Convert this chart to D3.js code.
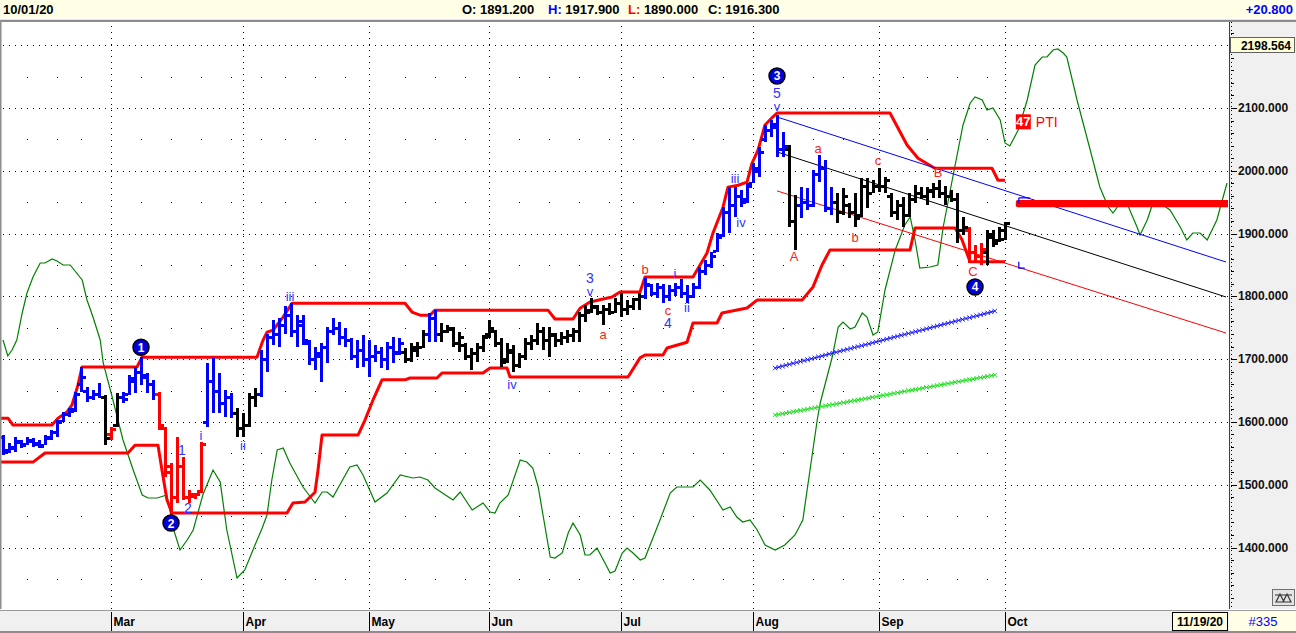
<!DOCTYPE html>
<html><head><meta charset="utf-8">
<script src="https://cdn.jsdelivr.net/npm/d3@7/dist/d3.min.js"></script>
<style>
body{margin:0;background:#fff;overflow:hidden}
svg{display:block}
text{font-family:"Liberation Sans",Arial,sans-serif}
</style></head><body>
<svg id="c" width="1296" height="633"></svg>
<script>
// ---------------- DATA ----------------
const monthLabels = ["Mar","Apr","May","Jun","Jul","Aug","Sep","Oct"];
const monthIdx    = [18,40,61,81,103,125,146,167];
const weekIdx     = [4,9,13,23,28,33,38,43,47,52,57,67,72,77,86,91,96,101,105,110,115,120,130,135,140,145,150,154,159,164];
const priceTicks  = [1400,1500,1600,1700,1800,1900,2000,2100];
const gridLevels  = [1400,1500,1600,1700,1800,1900,2000,2100,2200];
const halfLevels  = [1350,1450,1550,1650,1750,1850,1950,2050,2150];

const hi = [1579,1566,1576,1571,1576,1574,1571,1579,1587,1603, 1616,1622,1648,1687,1656,1651,1662,1643,1592,1646,
 1648,1675,1687,1703,1678,1667,1648,1592,1535,1576, 1544,1492,1487,1568,1694,1702,1678,1651,1646,1622,
 1614,1646,1654,1714,1740,1762,1765,1785,1789,1770, 1770,1730,1719,1726,1751,1766,1759,1750,1734,1730,
 1738,1730,1723,1719,1727,1735,1734,1718,1726,1727, 1746,1773,1778,1757,1754,1751,1743,1726,1718,1726,
 1738,1762,1746,1734,1726,1723,1710,1734,1738,1757, 1751,1751,1742,1743,1746,1750,1775,1786,1797,1786,
 1786,1789,1797,1805,1794,1797,1805,1830,1820,1822, 1820,1818,1822,1827,1818,1822,1847,1858,1870,1901,
 1942,1974,1974,1969,1980,2012,2038,2073,2081,2089, 2062,2041,1961,1974,1972,2001,2025,2017,1974,1965,
 1972,1949,1965,1989,1989,1985,2004,1990,1965,1953, 1958,1965,1977,1974,1974,1980,1985,1975,1970,1965,
 1926,1910,1882,1885,1906,1906,1910,1917.9];
const lo = [1547,1550,1552,1558,1563,1560,1558,1563,1571,1576, 1600,1608,1616,1648,1632,1635,1638,1563,1571,1592,
 1630,1643,1646,1659,1646,1635,1587,1512,1451,1471, 1476,1471,1478,1487,1592,1614,1614,1608,1606,1576,
 1576,1592,1624,1640,1680,1722,1720,1740,1735,1720, 1723,1691,1683,1664,1694,1738,1723,1719,1699,1686,
 1688,1671,1695,1686,1683,1694,1707,1694,1695,1703, 1718,1727,1727,1727,1742,1719,1711,1699,1683,1695,
 1711,1734,1719,1688,1694,1680,1686,1699,1714,1723, 1714,1703,1719,1723,1726,1727,1727,1759,1773,1770,
 1754,1770,1773,1767,1770,1778,1778,1796,1800,1798, 1790,1793,1800,1798,1790,1798,1812,1834,1845,1870,
 1895,1901,1926,1942,1949,1980,1990,2046,2054,2022, 2022,1910,1874,1925,1938,1942,1982,1935,1930,1917,
 1930,1925,1910,1926,1941,1965,1966,1965,1926,1922, 1910,1926,1949,1955,1945,1957,1957,1945,1950,1885,
 1898,1853,1853,1850,1850,1879,1887,1890];
const op = [1576,1555,1558,1568,1565,1570,1565,1564,1574,1584, 1602,1613,1620,1660,1650,1640,1645,1640,1580,1595,
 1640,1645,1665,1680,1672,1660,1645,1590,1530,1480, 1530,1480,1482,1490,1600,1665,1650,1630,1640,1615,
 1590,1595,1640,1645,1700,1735,1740,1755,1770,1745, 1760,1725,1700,1705,1720,1745,1750,1735,1730,1705,
 1715,1700,1705,1712,1700,1720,1712,1712,1700,1715, 1720,1740,1765,1740,1745,1748,1725,1722,1705,1710,
 1720,1740,1745,1725,1700,1712,1690,1705,1725,1730, 1745,1730,1738,1730,1735,1738,1745,1770,1778,1783,
 1775,1780,1775,1790,1780,1785,1795,1800,1818,1805, 1815,1800,1810,1815,1805,1800,1815,1840,1850,1872,
 1898,1935,1945,1960,1955,1980,2000,2050,2065,2075, 2035,2035,1920,1945,1950,1945,1995,2005,1940,1950,
 1935,1945,1935,1930,1975,1965,1975,1975,1960,1935, 1945,1930,1955,1965,1960,1968,1972,1965,1960,1955,
 1905,1905,1870,1865,1870,1895,1890,1891.2];
const cl = [1552,1560,1570,1563,1572,1566,1562,1576,1584,1600, 1612,1618,1644,1672,1640,1645,1640,1575,1588,1640,
 1636,1670,1680,1675,1660,1645,1595,1520,1480,1530, 1480,1485,1485,1565,1665,1650,1630,1640,1615,1590,
 1595,1640,1645,1700,1735,1740,1755,1770,1745,1755, 1730,1700,1710,1720,1745,1750,1735,1730,1705,1715,
 1700,1705,1712,1700,1720,1710,1725,1700,1720,1720, 1740,1765,1740,1745,1750,1725,1735,1705,1710,1720,
 1735,1750,1725,1695,1715,1690,1705,1725,1730,1745, 1730,1740,1730,1735,1738,1745,1770,1775,1785,1775,
 1780,1775,1790,1780,1785,1795,1800,1820,1805,1815, 1800,1810,1815,1805,1800,1815,1840,1850,1865,1895,
 1935,1945,1960,1950,1975,2005,2030,2065,2070,2035, 2040,1920,1945,1950,1945,1995,2005,1940,1950,1935,
 1960,1935,1925,1975,1965,1975,1975,1985,1935,1945, 1930,1955,1965,1960,1970,1972,1965,1960,1955,1905,
 1910,1870,1865,1875,1900,1885,1905,1916.3];
const colorRuns = [[17,"b"],[1,"k"],[1,"r"],[1,"k"],[6,"b"],[8,"r"],[5,"b"],[4,"k"],[24,"b"],[4,"k"],[2,"b"],[34,"k"],[24,"b"],[2,"k"],[6,"b"],[22,"k"],[3,"r"],[4,"k"]];

const upperBand = [[-0.5,1606],[0.83,1606],[1.67,1595],[8.17,1595],[9.17,1606],[10.67,1616],[11.5,1627],[12.5,1659],[13.17,1687.5],[22.33,1687.5],[23.17,1703],[42.33,1703],[43.33,1730],[44,1743],[45,1746],[46.67,1767],[48.17,1789],[67,1789],[68.17,1775],[69.5,1770],[71.17,1770],[72,1778],[90.83,1778],[92,1764],[95,1764],[96.17,1781],[97.83,1791],[101.5,1799],[102.83,1807],[106.17,1807],[107,1831],[115,1831],[116.17,1850],[117.33,1869],[118.33,1901],[120,1942],[120.83,1974],[122.5,1977],[124,1982],[124.83,2012],[125.83,2033],[127,2073],[128.33,2086],[129,2092],[147.83,2092],[150.67,2041],[152.5,2020],[155.3,2004],[164.83,2004],[165.83,1985],[167,1985]];
const lowerBand = [[-0.5,1536],[5,1536],[7,1550.5],[20.83,1550.5],[22,1563],[25.83,1563],[26.5,1523],[27.33,1475.6],[28.17,1455],[47.33,1455],[48.33,1471],[50.33,1472.4],[52,1488],[52.5,1523],[53.17,1579],[59.17,1579],[60.33,1603],[61.67,1635],[63.17,1667],[67,1667],[67.83,1670],[72.33,1670],[73.17,1678],[80,1678],[81.17,1686],[84,1686],[84.5,1671.5],[104.17,1671.5],[106.17,1702],[107,1706.6],[110,1706.6],[110.67,1717.7],[114,1727],[115,1757.5],[119,1757.5],[119.83,1773.5],[124,1781.4],[125.67,1794],[133.17,1794],[135,1815],[136.5,1850],[137.83,1874],[151.17,1874],[152,1909],[158.67,1909],[159.83,1890],[161.17,1855],[167,1855]];

const forkBlue  = [[129,2085.7],[203.83,1854.7]];
const forkBlack = [[129,2030],[203.83,1799]];
const forkRed   = [[129,1968],[203.83,1741.6]];
const projBlue  = [[128.7,1685.8],[165.3,1776.6]];
const projGreen = [[128.7,1611],[165.3,1674.7]];
const targetZone = [168.8,203.83,1942,1953.5];

const oscPts = [[0,52],[0.8,48.8],[1.5,50],[2.3,52],[3.2,57.4],[4,61.4],[5,64.6],[6.2,67.4],[7,67.4],[8.2,68.2],[9,67.8],[10,67],[11.2,67],[13.2,64],[14,60],[15,56.6],[16.2,52],[16.7,47.4],[18.2,40.6],[20,32],[21.7,26],[23.2,21],[24.2,20.4],[25.7,20.4],[27.3,21],[27.8,18],[28.3,14.6],[29.5,10],[30.7,12],[31.7,14],[33.3,21],[35,26],[36.2,23.6],[37.3,14],[39,4.4],[40.3,6],[42,11],[43.2,14.4],[44,17],[44.8,24],[45.7,30],[46.7,30.4],[47.8,27.4],[50,22.6],[52,19.4],[53.2,21.6],[54,21.6],[55,20.6],[57.8,26.6],[59,27],[60,25],[62,19.6],[64,21.4],[66.2,25],[68.3,24.4],[69.5,24.6],[70.8,24],[72,22.4],[75,20],[76.2,21.6],[78.2,18],[80,19.4],[81.2,17.6],[82,17.4],[82.8,19.4],[84.2,21],[86.2,28],[87.3,27.6],[88.3,26.4],[89.2,22.6],[91.2,8.6],[92,8.4],[93.2,9.4],[94.2,13.4],[95,15.4],[96.2,13],[97,9],[97.8,9],[99,10.4],[101.2,5.4],[102,5.8],[103.2,9.4],[104,10.4],[105,9.4],[106.2,8],[107,8.4],[109.5,16],[111.2,21.4],[112.3,22.6],[115,22.6],[116.2,24],[117.8,22],[120,18],[121.2,18.6],[122.3,16.6],[123.3,15.6],[124.5,16],[125.7,14],[127,11],[128.7,10],[130.3,11],[132,13],[133.3,16],[134.5,26],[135.7,36],[136.2,39.4],[138.2,48.6],[139.2,54.6],[140,55.6],[141.2,54.2],[142,54.6],[143.2,57.4],[144,56.6],[145,53],[145.8,53.6],[147,62],[148.7,70],[150.3,75],[151.2,76.6],[152,72],[152.8,66.4],[154.5,66.6],[155.8,67],[156.7,74.6],[158.3,84.6],[160,95],[161.2,99.4],[162,100.6],[163.2,100],[164,98],[165,98.4],[166.2,96],[167,91.4],[167.8,90.8],[169.2,94],[170.7,100],[172,107],[173.2,108.6],[174,108.6],[175,110],[175.8,110.2],[176.7,109.4],[177.3,108.6],[179,100],[181.2,90],[182.8,82.6],[184.2,78.6],[185,77.4],[186.2,79.4],[187.3,79.4],[189,74.6],[189.5,73],[190.7,76],[191.7,79.6],[192.8,79.4],[194.5,78],[196.2,74.6],[197.3,72],[198.3,73.4],[199.5,73.4],[200.7,72],[202.3,76],[204,83.4]];

const circleLabels = [["1",23,1719],["2",28,1439],["3",129,2151],["4",162,1815]];
const waveLabels = [
 ["iii",47.83,1800,"b"],["i",33,1579,"b"],["1",29.83,1555,"b"],["2",30.83,1463,"b"],["ii",40,1563,"b"],
 ["iv",84.83,1660,"b"],["3",97.83,1829,"b"],["v",97.83,1807,"b"],["a",100,1740,"r"],["b",107,1842,"r"],
 ["c",110.83,1778,"r"],["4",110.83,1757,"b"],["i",112,1836,"b"],["ii",114,1783,"b"],["iii",122,1988,"b"],
 ["iv",123,1918,"b"],["5",129,2124,"b"],["v",129,2102,"b"],["A",131.83,1864,"r"],["a",135.83,2035,"r"],
 ["b",142,1894,"r"],["c",145.83,2016,"r"],["B",155.83,1998,"r"],["C",161.67,1840,"r"]];
const ptiValue = ["47","PTI",168.8,2078];
const headerDate = "10/01/20";
const headerOHLC = [["O: ","1891.200","#000"],["H: ","1917.900","#0000ff"],["L: ","1890.000","#ff0000"],["C: ","1916.300","#000"]];
const headerChange = "+20.800";
const lastValue = "2198.564";
const endDate = "11/19/20";
const barCount = "#335";

// ---------------- DRAW ----------------
const svg = d3.select("#c");
const plotR = 1228, plotT = 22, plotB = 609;
const x = d3.scaleLinear().domain([-0.5,203.83]).range([0,1226]);
const y = d3.scaleLinear().domain([1400,2100]).range([547.5,108]);
const yo = d3.scaleLinear().domain([0,100]).range([600,100]);
const COL = {b:"#0000ff",k:"#000000",r:"#ff0000"};
const WAVE = {b:"#3333ff",r:"#ff2020"};

svg.append("rect").attr("width",1296).attr("height",633).attr("fill","#fff");
svg.append("defs").append("clipPath").attr("id","pc").append("rect")
  .attr("x",1).attr("y",plotT).attr("width",plotR-1).attr("height",plotB-plotT);

// header
svg.append("rect").attr("x",0).attr("y",0).attr("width",1296).attr("height",18).attr("fill","#ffffe6");
svg.append("line").attr("x1",0).attr("x2",1296).attr("y1",19.5).attr("y2",19.5).attr("stroke","#e4e4e4");
svg.append("line").attr("x1",0).attr("x2",1296).attr("y1",21).attr("y2",21).attr("stroke","#8c8c8c").attr("stroke-width",2);
svg.append("text").attr("x",3).attr("y",13.5).attr("font-size",13).attr("font-weight","bold").text(headerDate);
const hx = [462,548,628,708];
headerOHLC.forEach((h,k)=>{
  const t = svg.append("text").attr("x",hx[k]).attr("y",13.5).attr("font-size",13).attr("font-weight","bold");
  t.append("tspan").attr("fill",h[2]).text(h[0]);
  t.append("tspan").attr("fill","#000").text(h[1]);
});
svg.append("text").attr("x",1293).attr("y",13.5).attr("text-anchor","end").attr("font-size",13)
  .attr("font-weight","bold").attr("fill","#0000ff").text(headerChange);

// grid
const grid = svg.append("g").attr("clip-path","url(#pc)").attr("shape-rendering","crispEdges");
gridLevels.forEach(v=>{
  const yy = Math.round(y(v))+0.5;
  grid.append("line").attr("x1",3).attr("x2",plotR).attr("y1",yy).attr("y2",yy)
    .attr("stroke","#000").attr("stroke-dasharray","1,5");
});
monthIdx.forEach(i=>{
  const xx = Math.round(x(i))+0.5;
  grid.append("line").attr("x1",xx).attr("x2",xx).attr("y1",plotT+4).attr("y2",plotB)
    .attr("stroke","#000").attr("stroke-dasharray","1,5");
});
weekIdx.forEach(i=>{
  halfLevels.forEach(v=>{
    grid.append("rect").attr("x",Math.round(x(i))).attr("y",Math.round(y(v))).attr("width",1.2).attr("height",1.2).attr("fill","#000");
  });
  gridLevels.forEach(v=>{});
});

const plot = svg.append("g").attr("clip-path","url(#pc)");

// oscillator
plot.append("path").datum(oscPts)
  .attr("d",d3.line().x(d=>x(d[0])).y(d=>yo(d[1])))
  .attr("fill","none").attr("stroke","#008000").attr("stroke-width",1.2);

// envelopes
[upperBand,lowerBand].forEach(b=>{
  plot.append("path").datum(b).attr("d",d3.line().x(d=>x(d[0])).y(d=>y(d[1])))
    .attr("fill","none").attr("stroke","#ff0000").attr("stroke-width",3).attr("stroke-linejoin","round");
});

// fork lines
[[forkBlue,"#0000ff"],[forkBlack,"#000"],[forkRed,"#ff0000"]].forEach(([f,c])=>{
  plot.append("line").attr("x1",x(f[0][0])).attr("y1",y(f[0][1])).attr("x2",x(f[1][0])).attr("y2",y(f[1][1]))
    .attr("stroke",c).attr("stroke-width",1);
});

// projection x-lines
[[projBlue,"#1f1fff"],[projGreen,"#22e022"]].forEach(([p,c])=>{
  const x0=x(p[0][0]), y0=y(p[0][1]), x1=x(p[1][0]), y1=y(p[1][1]);
  const n = Math.round((x1-x0)/3.6);
  let d="";
  for(let k=0;k<=n;k++){
    const px=x0+(x1-x0)*k/n, py=y0+(y1-y0)*k/n;
    d+=`M${px-2.2},${py-2.2}L${px+2.2},${py+2.2}M${px-2.2},${py+2.2}L${px+2.2},${py-2.2}`;
  }
  plot.append("path").attr("d",d).attr("stroke",c).attr("stroke-width",1).attr("fill","none");
  plot.append("line").attr("x1",x0).attr("y1",y0).attr("x2",x1).attr("y2",y1).attr("stroke",c).attr("stroke-width",1);
});

// target zone
plot.append("rect").attr("x",x(targetZone[0])).attr("y",y(targetZone[3]))
  .attr("width",x(targetZone[1])-x(targetZone[0])+4).attr("height",y(targetZone[2])-y(targetZone[3]))
  .attr("rx",2).attr("fill","#ff0000");
// small blue markers
{
  const xm = x(169.3);
  plot.append("path").attr("d",`M${xm},${y(1957)}L${xm},${y(1947)}M${xm},${y(1957)}L${xm+11},${y(1957)}`)
    .attr("stroke","#0000ff").attr("fill","none").attr("stroke-width",1.2);
  plot.append("path").attr("d",`M${xm},${y(1855)}L${xm},${y(1845)}L${xm+6},${y(1845)}`)
    .attr("stroke","#0000ff").attr("fill","none").attr("stroke-width",1.2);
}

// bars
const colors = [];
colorRuns.forEach(([n,c])=>{for(let k=0;k<n;k++)colors.push(c);});
const bars = plot.append("g").attr("shape-rendering","crispEdges");
hi.forEach((h,i)=>{
  const c = COL[colors[i]];
  const cx = Math.round(x(i));
  const yt = Math.round(y(h)), yb = Math.round(y(lo[i]));
  bars.append("rect").attr("x",cx-1).attr("y",yt).attr("width",3).attr("height",Math.max(2,yb-yt)).attr("fill",c);
  bars.append("rect").attr("x",cx-4).attr("y",Math.round(y(op[i]))-1).attr("width",3).attr("height",3).attr("fill",c);
  bars.append("rect").attr("x",cx+2).attr("y",Math.round(y(cl[i]))-1).attr("width",3).attr("height",3).attr("fill",c);
});

// wave labels
waveLabels.forEach(([t,i,v,c])=>{
  const num = /[0-9]/.test(t);
  svg.append("text").attr("x",x(i)).attr("y",y(v)).attr("text-anchor","middle").attr("dominant-baseline","central")
    .attr("font-size",num?14:13).attr("fill",WAVE[c]).text(t);
});
circleLabels.forEach(([t,i,v])=>{
  svg.append("circle").attr("cx",x(i)).attr("cy",y(v)).attr("r",8).attr("fill","#0000dd").attr("stroke","#000").attr("stroke-width",1.5);
  svg.append("text").attr("x",x(i)).attr("y",y(v)+0.5).attr("text-anchor","middle").attr("dominant-baseline","central")
    .attr("font-size",12).attr("font-weight","bold").attr("fill","#fff").text(t);
});

// PTI
{
  const px = x(ptiValue[2]), py = y(ptiValue[3]);
  svg.append("rect").attr("x",px).attr("y",py-7.5).attr("width",15).attr("height",15).attr("fill","#ff0000");
  svg.append("text").attr("x",px+7.5).attr("y",py).attr("text-anchor","middle").attr("dominant-baseline","central")
    .attr("font-size",13).attr("font-weight","bold").attr("fill","#fff").text(ptiValue[0]);
  svg.append("text").attr("x",px+20).attr("y",py).attr("dominant-baseline","central")
    .attr("font-size",14).attr("fill","#ff0000").text(ptiValue[1]);
}

// left border
svg.append("line").attr("x1",0.5).attr("x2",0.5).attr("y1",plotT).attr("y2",plotB).attr("stroke","#8c8c8c").attr("stroke-width",2);

// right axis panel
svg.append("rect").attr("x",1229).attr("y",plotT).attr("width",67).attr("height",plotB-plotT).attr("fill","#f0f0f0");
svg.append("line").attr("x1",1229.5).attr("x2",1229.5).attr("y1",plotT).attr("y2",plotB).attr("stroke","#404040");
svg.append("line").attr("x1",1231.5).attr("x2",1231.5).attr("y1",plotT).attr("y2",plotB)
  .attr("stroke","#000").attr("stroke-dasharray","1,3").attr("shape-rendering","crispEdges");
const ax = svg.append("g").attr("shape-rendering","crispEdges");
d3.range(1320,2240,20).forEach(v=>{
  const yy = Math.round(y(v))+0.5;
  if (yy<plotT+2 || yy>plotB-2) return;
  const major = v%100===0;
  ax.append("line").attr("x1",1231).attr("x2",major?1237:1234).attr("y1",yy).attr("y2",yy).attr("stroke","#000");
});
priceTicks.forEach(v=>{
  svg.append("text").attr("x",1238).attr("y",y(v)).attr("dominant-baseline","central")
    .attr("font-size",12).attr("font-weight","bold").attr("fill","#111").text(d3.format(".3f")(v));
});
svg.append("rect").attr("x",1230.5).attr("y",37.5).attr("width",64).attr("height",15).attr("fill","#ffffd8").attr("stroke","#606060");
svg.append("text").attr("x",1291).attr("y",45.5).attr("text-anchor","end").attr("dominant-baseline","central")
  .attr("font-size",12).attr("font-weight","bold").text(lastValue);
// small icon
svg.append("rect").attr("x",1272.5).attr("y",589.5).attr("width",22).attr("height",16).attr("fill","#e4e4e4").attr("stroke","#707070");
svg.append("path").attr("d","M1276,602L1280,594L1284,602ZM1283,602L1287,594L1291,602Z M1275,595L1292,595")
  .attr("fill","none").attr("stroke","#333").attr("stroke-width",1.2);

// bottom axis
svg.append("rect").attr("x",0).attr("y",plotB).attr("width",1296).attr("height",633-plotB).attr("fill","#fff");
svg.append("rect").attr("x",0).attr("y",611).attr("width",1229).attr("height",21).attr("fill","#f0f0f0");
svg.append("rect").attr("x",1229).attr("y",611).attr("width",67).attr("height",21).attr("fill","#ffffe6");
svg.append("line").attr("x1",0).attr("x2",1296).attr("y1",610.5).attr("y2",610.5).attr("stroke","#9a9a9a");
svg.append("line").attr("x1",0).attr("x2",1296).attr("y1",632).attr("y2",632).attr("stroke","#8c8c8c").attr("stroke-width",2);
monthIdx.forEach((i,k)=>{
  const xx = Math.round(x(i))+0.5;
  svg.append("line").attr("x1",xx).attr("x2",xx).attr("y1",612).attr("y2",631).attr("stroke","#000").attr("shape-rendering","crispEdges");
  svg.append("text").attr("x",xx+2).attr("y",626).attr("font-size",12).attr("font-weight","bold").text(monthLabels[k]);
});
svg.append("rect").attr("x",1172.5).attr("y",612.5).attr("width",55).attr("height",18).attr("fill","#ffffe0").attr("stroke","#000");
svg.append("text").attr("x",1200).attr("y",626).attr("text-anchor","middle").attr("font-size",12).attr("font-weight","bold").text(endDate);
svg.append("text").attr("x",1263).attr("y",626).attr("text-anchor","middle").attr("font-size",13).attr("fill","#0000ff").text(barCount);
</script>
</body></html>
